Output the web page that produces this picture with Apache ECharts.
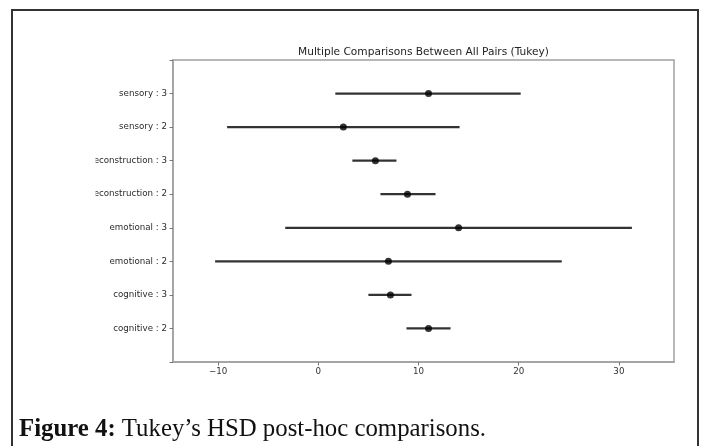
<!DOCTYPE html>
<html>
<head>
<meta charset="utf-8">
<script src="https://cdn.jsdelivr.net/npm/echarts@6/dist/echarts.min.js"></script>
<style>
html,body{margin:0;padding:0;background:#fff;}
#chart{width:705px;height:446px;}
</style>
</head>
<body>
<div id="chart"></div>
<script>
// Categories listed bottom to top
var categories = ['cognitive : 2','cognitive : 3','emotional : 2','emotional : 3','reconstruction : 2','reconstruction : 3','sensory : 2','sensory : 3'];
var meanDiff = [11.0, 7.2, 7.0, 14.0, 8.9, 5.7, 2.5, 11.0];
var lower    = [8.8, 5.0, -10.3, -3.3, 6.2, 3.4, -9.1, 1.7];
var upper    = [13.2, 9.3, 24.3, 31.3, 11.7, 7.8, 14.1, 20.2];
var xTicks = [-10, 0, 10, 20, 30];
var chartTitle = 'Multiple Comparisons Between All Pairs (Tukey)';
var captionBold = 'Figure 4:';
var captionText = ' Tukey\u2019s HSD post-hoc comparisons.';

var intervalData = categories.map(function(c, i){ return [lower[i], upper[i], i]; });
var pointData = categories.map(function(c, i){ return [meanDiff[i], i]; });

var chart = echarts.init(document.getElementById('chart'), null, {renderer:'canvas'});
var labelFont = 'DejaVu Sans';
chart.setOption({
  animation: false,
  backgroundColor: '#fff',
  title: [{
    text: chartTitle,
    left: 418.5, top: 42, textAlign: 'center',
    textStyle: {fontFamily: labelFont, fontSize: 10.6, fontWeight: 'normal', color: '#222'}
  }, {
    text: '{b|' + captionBold + '}{r|' + captionText + '}',
    left: 14, top: 412,
    textStyle: {
      rich: {
        b: {fontFamily: 'Liberation Serif', fontSize: 24.8, fontWeight: 'bold', color: '#111'},
        r: {fontFamily: 'Liberation Serif', fontSize: 24.8, fontWeight: 'normal', color: '#111'}
      }
    }
  }],
  grid: {left: 173, top: 60, right: 31, bottom: 84, show: true, borderColor: '#a0a0a0', borderWidth: 1.5, backgroundColor: 'transparent'},
  xAxis: {
    type: 'value', min: -14.5, max: 35.5,
    splitLine: {show: false},
    axisLine: {show: true, onZero: false, lineStyle: {color: '#a0a0a0', width: 1.5}},
    axisTick: {show: true, length: 3.5, lineStyle: {color: '#777'}, customValues: xTicks},
    axisLabel: {fontFamily: labelFont, fontSize: 8.7, color: '#333', margin: 5, customValues: xTicks,
      formatter: function(v){ return v < 0 ? '\u2212' + Math.abs(v) : String(v); }}
  },
  yAxis: {
    type: 'value', min: -1, max: 8, interval: 1,
    splitLine: {show: false},
    axisLine: {show: true, onZero: false, lineStyle: {color: '#a0a0a0', width: 1.5}},
    axisTick: {show: true, length: 3.5, lineStyle: {color: '#777'}},
    axisLabel: {fontFamily: labelFont, fontSize: 8.7, color: '#2a2a2a', margin: 6,
      showMinLabel: true, showMaxLabel: true,
      formatter: function(v){ return (v >= 0 && v < categories.length) ? categories[v] : ''; }}
  },
  series: [{
    type: 'custom',
    data: intervalData,
    encode: {x: [0, 1], y: 2},
    z: 2,
    renderItem: function(params, api){
      var p1 = api.coord([api.value(0), api.value(2)]);
      var p2 = api.coord([api.value(1), api.value(2)]);
      return {type: 'line', shape: {x1: p1[0], y1: p1[1], x2: p2[0], y2: p2[1]},
        style: {stroke: '#333', lineWidth: 2.2}};
    }
  }, {
    type: 'scatter',
    data: pointData,
    symbol: 'circle', symbolSize: 7,
    itemStyle: {color: '#000'},
    z: 3
  }],
  graphic: [{
    type: 'rect', z: 100, silent: true,
    shape: {x: 13, y: 60, width: 82.5, height: 300},
    style: {fill: '#fff'}
  }, {
    type: 'rect', z: 101, silent: true,
    shape: {x: 12, y: 10, width: 686, height: 460},
    style: {fill: 'none', stroke: '#333', lineWidth: 2}
  }]
});
</script>
</body>
</html>
